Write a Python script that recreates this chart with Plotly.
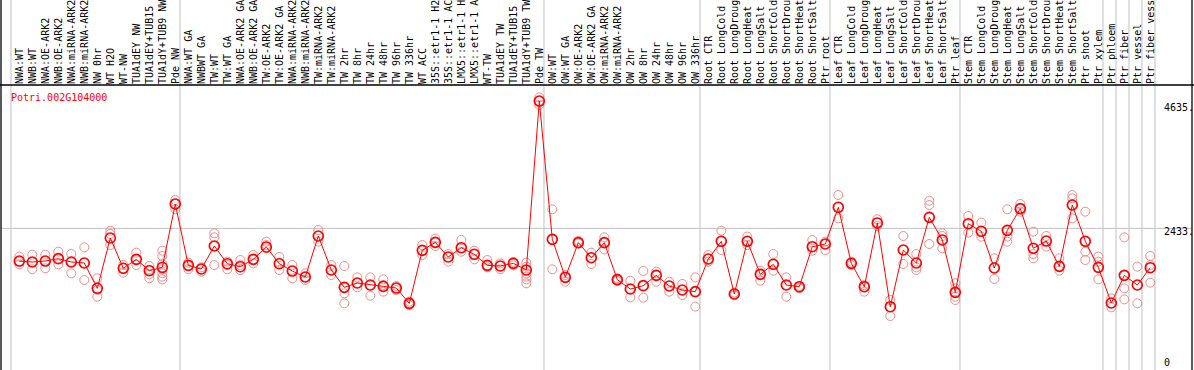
import plotly.graph_objects as go

categories = [
    "NWA:WT", "NWB:WT", "NWA:OE-ARK2", "NWB:OE-ARK2", "NWA:miRNA-ARK2", "NWB:miRNA-ARK2",
    "NW 0hr", "WT H2O", "WT-NW", "TUA1dEY NW", "TUA1dEY+TUB15", "TUA1dY+TUB9 NW", "Pde NW",
    "NWA:WT GA", "NWBWT GA", "TW:WT", "TW:WT GA", "NWA:OE-ARK2 GA", "NWB:OE-ARK2 GA",
    "TW:OE-ARK2", "TW:OE-ARK2 GA", "NWA:miRNA-ARK2", "NWB:miRNA-ARK2", "TW:miRNA-ARK2",
    "TW:miRNA-ARK2", "TW 2hr", "TW 8hr", "TW 24hr", "TW 48hr", "TW 96hr", "TW 336hr",
    "WT ACC", "35S::etr1-1 H2", "35S::etr1-1 AC", "LMX5::etr1-1 H", "LMX5::etr1-1 A",
    "WT-TW", "TUA1dEY TW", "TUA1dEY+TUB15", "TUA1dY+TUB9 TW", "Pde TW",
    "OW:WT", "OW:WT GA", "OW:OE-ARK2", "OW:OE-ARK2 GA", "OW:miRNA-ARK2", "OW:miRNA-ARK2",
    "OW 2hr", "OW 8hr", "OW 24hr", "OW 48hr", "OW 96hr", "OW 336hr",
    "Root CTR", "Root LongCold", "Root LongDroug", "Root LongHeat", "Root LongSalt",
    "Root ShortCold", "Root ShortDrou", "Root ShortHeat", "Root ShortSalt", "Ptr root",
    "Leaf CTR", "Leaf LongCold", "Leaf LongDroug", "Leaf LongHeat", "Leaf LongSalt",
    "Leaf ShortCold", "Leaf ShortDrou", "Leaf ShortHeat", "Leaf ShortSalt", "Ptr leaf",
    "Stem CTR", "Stem LongCold", "Stem LongDroug", "Stem LongHeat", "Stem LongSalt",
    "Stem ShortCold", "Stem ShortDrou", "Stem ShortHeat", "Stem ShortSalt", "Ptr shoot",
    "Ptr xylem", "Ptr phloem", "Ptr fiber", "Ptr vessel", "Ptr fiber vess",
]

mean_values = [
    1868, 1851, 1868, 1909, 1851, 1834, 1396, 2266, 1742, 1897, 1701, 1759, 2855,
    1793, 1730, 2128, 1822, 1770, 1897, 2111, 1822, 1695, 1592, 2301, 1713, 1413, 1488,
    1453, 1430, 1401, 1136, 2053, 2191, 1938, 2099, 1984, 1793, 1782, 1828, 1713, 4635,
    2243, 1586, 2186, 1926, 2186, 1546, 1384, 1442, 1620, 1436, 1367, 1338,
    1903, 2209, 1298, 2209, 1638, 1811, 1453, 1424, 2116, 2163,
    2797, 1828, 1424, 2527, 1078, 2059, 1834, 2624, 2232, 1326,
    2514, 2382, 1747, 2399, 2774, 2088, 2214, 1776, 2837, 2209, 1759,
    1142, 1620, 1453, 1753,
]

replicate_values = [
    [1944, 1857, 1811], [1978, 1851, 1725], [1978, 1869, 1742], [2030, 1909, 1811],
    [1990, 1857, 1655], [2105, 1834, 1540], [1569, 1367, 1252], [2393, 2336, 2145],
    [1799, 1742, 1667], [2013, 1897, 1799], [1782, 1713, 1638, 1569],
    [2047, 1955, 1817, 1725, 1655, 1598, 1551], [2924, 2855, 2763],
    [1840, 1782, 1725], [1759, 1725, 1684], [2347, 2278, 2128, 1799], [1857, 1799, 1725],
    [1886, 1799, 1713], [1972, 1897, 1828], [2203, 2145, 2088], [1938, 1840, 1713],
    [1799, 1696, 1569], [1655, 1592, 1540], [2405, 2301, 2203], [1799, 1713, 1626],
    [1782, 1413, 1309, 1136], [1586, 1488, 1413], [1586, 1453, 1269], [1551, 1453, 1338],
    [1436, 1401, 1367], [1165, 1136, 1107], [2145, 2053, 1972], [2255, 2192, 2128],
    [1990, 1938, 1857], [2232, 2099, 2030], [2047, 1984, 1897], [1886, 1794, 1759],
    [1828, 1782, 1725], [1851, 1828, 1794], [1840, 1771, 1713, 1655, 1598, 1551, 1482],
    [4700, 4635, 4570],
    [2763, 2243, 1725], [1626, 1586, 1511], [2215, 2186, 2174], [2013, 1926, 1817],
    [2278, 2186, 2070], [1569, 1546, 1523], [1528, 1384, 1240], [1696, 1442, 1234],
    [1684, 1621, 1511], [1511, 1436, 1338], [1471, 1367, 1280], [1586, 1338, 1079],
    [1972, 1903, 1857], [2393, 2209, 2059], [1321, 1298, 1275], [2290, 2209, 2145],
    [1701, 1638, 1528], [1990, 1811, 1701], [1586, 1453, 1252], [1436, 1413, 1396],
    [2232, 2117, 2047], [2203, 2163, 2059],
    [3010, 2797, 2607], [1857, 1828, 1799], [1453, 1424, 1338], [2590, 2532, 2474],
    [1194, 1073, 917], [2301, 2059, 1817], [1990, 1834, 1759, 1713],
    [2912, 2837, 2624, 2163], [2347, 2301, 2232, 2088], [1482, 1396, 1327, 1252, 1194],
    [2647, 2515, 2359], [2532, 2382, 2290], [1915, 1748, 1557], [2763, 2399, 2290, 2203],
    [2855, 2774, 2722], [2376, 2088, 1990, 1915], [2301, 2215, 2117], [1915, 1776, 1701],
    [3010, 2953, 2837, 2607], [2722, 2209, 2030, 1886], [1944, 1857, 1759, 1551],
    [1223, 1142, 1067], [2278, 1621, 1396, 1205], [1771, 1453, 1136],
    [1955, 1799, 1753, 1494],
]

group_ends = [-1, 12, 40, 52, 62, 72, 83, 84, 85, 86, 87]
axis_ticks = [0, 2433, 4635]
axis_tick_text = ["0", "2433.", "4635."]
gene_id = "Potri.002G104000"

idx = list(range(len(categories)))
rep_x = [i for i, reps in zip(idx, replicate_values) for _ in reps]
rep_y = [v for reps in replicate_values for v in reps]

MONO = "DejaVu Sans Mono"
fig = go.Figure()
fig.add_trace(go.Scatter(
    x=rep_x, y=rep_y, mode="markers",
    marker=dict(symbol="circle-open", size=9, color="rgb(240,140,140)", line=dict(width=1)),
    hoverinfo="skip", showlegend=False,
))
fig.add_trace(go.Scatter(
    x=idx, y=mean_values, mode="lines+markers",
    line=dict(color="#ff0000", width=1),
    marker=dict(symbol="circle-open", size=10, color="#ff0000", line=dict(width=1.6)),
    showlegend=False,
))

shapes = []
for k in group_ends:
    shapes.append(dict(type="line", xref="x", yref="paper", x0=k + 0.36, x1=k + 0.36,
                       y0=-0.02, y1=1.31, line=dict(color="#c0c0c0", width=1), layer="below"))
shapes.append(dict(type="line", xref="paper", yref="y", x0=0, x1=1, y0=2433, y1=2433,
                   line=dict(color="#c0c0c0", width=1), layer="below"))
# borders
shapes.append(dict(type="line", xref="paper", yref="paper", x0=-0.001, x1=1.002, y0=1, y1=1,
                   line=dict(color="black", width=1.3)))
shapes.append(dict(type="line", xref="paper", yref="paper", x0=0, x1=0, y0=-0.02, y1=1.31,
                   line=dict(color="black", width=1.3)))
shapes.append(dict(type="line", xref="paper", yref="paper", x0=1, x1=1, y0=-0.02, y1=1.31,
                   line=dict(color="black", width=1.3)))

annotations = [dict(text=gene_id, xref="paper", yref="paper", x=0.007, y=0.955,
                    xanchor="left", yanchor="middle", showarrow=False,
                    font=dict(family=MONO, size=10, color="#ff0000"))]
shifts = [7, -3, -6]
for v, t, s in zip(axis_ticks, axis_tick_text, shifts):
    annotations.append(dict(text=t, xref="paper", yref="y", x=0.975, y=v, yshift=s,
                            xanchor="left", yanchor="middle", showarrow=False,
                            font=dict(family=MONO, size=10, color="black")))

fig.update_layout(
    width=1194, height=370,
    margin=dict(l=1, r=2, t=85, b=0),
    paper_bgcolor="white", plot_bgcolor="white",
    xaxis=dict(range=[-1.408, 90.208], side="top", tickmode="array", tickvals=idx,
               ticktext=categories, tickangle=-90, ticks="", ticklen=0,
               tickfont=dict(family=MONO, size=10, color="black"),
               showgrid=False, zeroline=False, showline=False, automargin=False),
    yaxis=dict(range=[-17, 4913], showticklabels=False, showgrid=False, zeroline=False,
               showline=False, automargin=False),
    shapes=shapes, annotations=annotations,
)
fig.write_html("out.html", config={"displayModeBar": False},
               post_script="document.body.style.margin='0';document.body.style.padding='0';")
